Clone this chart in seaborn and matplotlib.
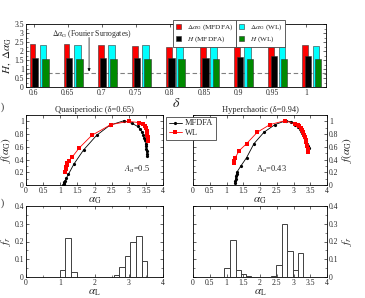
import numpy as np
import pandas as pd
import matplotlib
matplotlib.use("Agg")
import matplotlib.pyplot as plt
import seaborn as sns
from matplotlib.patches import Patch
from matplotlib.lines import Line2D
from matplotlib.ticker import MultipleLocator

# ---------------- data ----------------
delta = [0.6, 0.65, 0.7, 0.75, 0.8, 0.85, 0.9, 0.95, 1.0]
dalpha_mfdfa = [2.40, 2.39, 2.35, 2.27, 2.22, 2.30, 2.37, 2.37, 2.33]
H_mfdfa = [1.59, 1.60, 1.60, 1.62, 1.62, 1.62, 1.68, 1.70, 1.70]
dalpha_wl = [2.33, 2.33, 2.33, 2.31, 2.33, 2.37, 2.37, 2.37, 2.28]
H_wl = [1.55, 1.55, 1.57, 1.55, 1.57, 1.57, 1.55, 1.55, 1.55]
dalpha_surrogates = 0.76
delta_tick_labels = ["0.6", "0.65", "0.7", "0.75", "0.8", "0.85", "0.9", "0.95", "1"]

quasi_mfdfa_alpha = [1.09, 1.10, 1.11, 1.12, 1.14, 1.18, 1.24, 1.40, 1.68, 2.06, 2.45, 2.86,
                     3.09, 3.26, 3.33, 3.38, 3.42, 3.45, 3.47, 3.49, 3.50, 3.51, 3.52, 3.53, 3.54]
quasi_mfdfa_f = [0.00, 0.01, 0.03, 0.05, 0.07, 0.11, 0.17, 0.33, 0.55, 0.78, 0.94, 1.01,
                 0.97, 0.92, 0.88, 0.84, 0.79, 0.74, 0.70, 0.65, 0.61, 0.57, 0.53, 0.49, 0.45]
quasi_wl_alpha = [1.15, 1.16, 1.17, 1.19, 1.21, 1.25, 1.35, 1.55, 1.92, 2.48, 3.00, 3.30,
                  3.42, 3.47, 3.50, 3.52, 3.53, 3.54, 3.55, 3.56, 3.57]
quasi_wl_f = [0.21, 0.25, 0.28, 0.31, 0.34, 0.37, 0.44, 0.58, 0.78, 0.95, 1.00, 0.98,
              0.96, 0.93, 0.89, 0.85, 0.82, 0.78, 0.75, 0.72, 0.69]

hyper_mfdfa_alpha = [1.25, 1.26, 1.27, 1.28, 1.30, 1.32, 1.43, 1.60, 1.82, 2.12, 2.45, 2.77,
                     2.94, 3.05, 3.12, 3.18, 3.22, 3.26, 3.30, 3.34, 3.37, 3.40, 3.43, 3.45]
hyper_mfdfa_f = [0.03, 0.06, 0.10, 0.14, 0.18, 0.21, 0.30, 0.43, 0.65, 0.83, 0.95, 1.01,
                 0.99, 0.95, 0.91, 0.88, 0.85, 0.81, 0.77, 0.73, 0.69, 0.65, 0.61, 0.58]
hyper_wl_alpha = [1.22, 1.23, 1.25, 1.38, 1.60, 1.92, 2.30, 2.74, 3.04, 3.12, 3.17, 3.21,
                  3.25, 3.28, 3.31, 3.34, 3.36, 3.38, 3.40, 3.42, 3.43]
hyper_wl_f = [0.35, 0.38, 0.42, 0.54, 0.65, 0.83, 0.95, 1.01, 0.96, 0.94, 0.92, 0.89,
              0.86, 0.83, 0.79, 0.75, 0.71, 0.67, 0.62, 0.57, 0.52]

quasi_hist_edges = [0.99, 1.15, 1.31, 1.48, 2.56, 2.72, 2.89, 3.05, 3.21, 3.38, 3.54]
quasi_hist_heights = [0.04, 0.22, 0.03, 0.0, 0.01, 0.055, 0.12, 0.20, 0.23, 0.09]
hyper_hist_edges = [0.94, 1.10, 1.27, 1.42, 1.57, 1.72, 2.32, 2.48, 2.65, 2.82, 2.98, 3.13, 3.28]
hyper_hist_heights = [0.05, 0.21, 0.04, 0.015, 0.005, 0.0, 0.005, 0.065, 0.30, 0.145, 0.04, 0.135]

quasi_title = "Quasiperiodic (δ=0.65)"
hyper_title = "Hyperchaotic (δ=0.94)"
quasi_asym = r"$A_\alpha$=0.5"
hyper_asym = r"A$_\alpha$=0.43"

spectrum_ticks = [0, 0.5, 1, 1.5, 2, 2.5, 3, 3.5, 4]
spectrum_tick_labels = ["0", "0.5", "1", "1.5", "2", "2.5", "3", "3.5", "4"]

# ---------------- style ----------------
sns.set_style("ticks")
plt.rcParams.update({
    "font.family": ["Liberation Serif", "DejaVu Serif"],
    "mathtext.fontset": "stix",
    "font.size": 5.5,
    "axes.linewidth": 0.6,
    "xtick.direction": "in", "ytick.direction": "in",
    "xtick.top": True, "ytick.right": True,
    "xtick.major.size": 2.5, "ytick.major.size": 2.5,
    "xtick.minor.size": 1.3, "ytick.minor.size": 1.3,
    "xtick.major.width": 0.5, "ytick.major.width": 0.5,
    "xtick.minor.width": 0.4, "ytick.minor.width": 0.4,
    "xtick.labelsize": 5.5, "ytick.labelsize": 5.5,
    "xtick.major.pad": 1.5, "ytick.major.pad": 1.5,
    "axes.edgecolor": "black",
})

W, Hpx = 365, 298
fig = plt.figure(figsize=(W / 100, Hpx / 100), dpi=100)

def box(x0, y0, x1, y1):
    return [x0 / W, 1 - y1 / Hpx, (x1 - x0) / W, (y1 - y0) / Hpx]

ax_top = fig.add_axes(box(26, 24, 326, 87))
ax_ql = fig.add_axes(box(26, 115, 163, 185))
ax_hr = fig.add_axes(box(193, 115, 327, 185))
ax_qh = fig.add_axes(box(26, 206, 163, 277))
ax_hh = fig.add_axes(box(193, 206, 327, 277))

# ---------------- top bars ----------------
series = [(dalpha_mfdfa, "#ff0000", -0.0015, 0.17),
          (H_mfdfa, "#000000", 0.0023, 0.18),
          (dalpha_wl, "#00ffff", 0.0142, 0.19),
          (H_wl, "#008a00", 0.0173, 0.19)]
for vals, col, off, wd in series:
    xs = np.round(np.array(delta) + off, 5)
    sns.barplot(x=xs, y=vals, native_scale=True, width=wd, color=col,
                saturation=1, edgecolor="#333333", linewidth=0.4,
                errorbar=None, ax=ax_top)
ax_top.axhline(dalpha_surrogates, color="#808080", ls=(0, (4, 2.5)), lw=0.8, zorder=0.5)
ax_top.set_xlim(0.589, 1.029)
ax_top.set_ylim(0, 3.5)
ax_top.set_xticks(delta)
ax_top.set_xticklabels(delta_tick_labels)
ax_top.set_yticks([0, 0.5, 1, 1.5, 2, 2.5, 3, 3.5])
ax_top.set_yticklabels(["0", "0.5", "1", "1.5", "2", "2.5", "3", "3.5"])
ax_top.yaxis.set_minor_locator(MultipleLocator(0.25))
ax_top.set_xlabel(r"$\delta$", fontsize=10, labelpad=0)
ax_top.set_ylabel(r"$H,\ \Delta\alpha_{\rm G}$", fontsize=8, labelpad=1)
ax_top.text(0.685, 2.95, r"$\Delta\alpha_{\rm G}$ (Fourier Surrogates)",
            ha="center", va="center", fontsize=5.5)
ax_top.annotate("", xy=(0.6815, 0.86), xytext=(0.6815, 2.75),
                arrowprops=dict(arrowstyle="-|>", lw=0.5, color="black",
                                mutation_scale=4, shrinkA=0, shrinkB=0))

h1 = [Patch(facecolor="#ff0000", edgecolor="#333333", lw=0.4),
      Patch(facecolor="#000000", edgecolor="#333333", lw=0.4)]
h2 = [Patch(facecolor="#00ffff", edgecolor="#333333", lw=0.4),
      Patch(facecolor="#008a00", edgecolor="#333333", lw=0.4)]
legkw = dict(loc="upper left", fontsize=5.2, frameon=True, fancybox=False,
             edgecolor="#444444", framealpha=1, handlelength=0.7, handleheight=0.7,
             handletextpad=0.9, borderpad=0.35, labelspacing=0.3, borderaxespad=0)
lg1 = fig.legend(h1, [r"$\Delta\alpha_{\rm G}$ (MFDFA)", r"$H$ (MFDFA)"],
                 bbox_to_anchor=(173 / W, 1 - 20 / Hpx), **legkw)
lg1.get_frame().set_linewidth(0.6)
fig.canvas.draw()
bb = lg1.get_window_extent().transformed(fig.transFigure.inverted())
lg2 = fig.legend(h2, [r"$\Delta\alpha_{\rm G}$ (WL)", r"$H$ (WL)"],
                 bbox_to_anchor=(bb.x1, 1 - 20 / Hpx), **legkw)
lg2.get_frame().set_linewidth(0.6)

# ---------------- spectra ----------------
def spectra(ax, am, fm, aw, fw):
    sns.lineplot(x=am, y=fm, sort=False, estimator=None, color="black", marker="o",
                 markersize=2.3, markeredgewidth=0, linewidth=0.6, ax=ax, label="MFDFA")
    sns.lineplot(x=aw, y=fw, sort=False, estimator=None, color="#ff0000", marker="s",
                 markersize=2.3, markeredgewidth=0, linewidth=0.6, ax=ax, label="WL")
    ax.set_xlim(0, 4)
    ax.set_ylim(0, 1.1)
    ax.set_xticks(spectrum_ticks)
    ax.set_xticklabels(spectrum_tick_labels)
    ax.set_yticks([0, 0.2, 0.4, 0.6, 0.8, 1.0])
    ax.set_yticklabels(["0", "0.2", "0.4", "0.6", "0.8", "1"])
    ax.yaxis.set_minor_locator(MultipleLocator(0.1))
    ax.set_xlabel(r"$\alpha_{\rm G}$", fontsize=8, labelpad=0)
    ax.set_ylabel(r"$f(\alpha_{\rm G})$", fontsize=8, labelpad=1)
    if ax.get_legend() is not None:
        ax.get_legend().remove()

spectra(ax_ql, quasi_mfdfa_alpha, quasi_mfdfa_f, quasi_wl_alpha, quasi_wl_f)
spectra(ax_hr, hyper_mfdfa_alpha, hyper_mfdfa_f, hyper_wl_alpha, hyper_wl_f)
ax_ql.set_title(quasi_title, fontsize=6, pad=2)
ax_hr.set_title(hyper_title, fontsize=6, pad=2)
ax_ql.text(3.25, 0.24, quasi_asym, ha="center", va="center", fontsize=6)
ax_hr.text(2.35, 0.24, hyper_asym, ha="center", va="center", fontsize=6)
ax_hr.tick_params(axis="y", labelleft=False, labelright=True)
ax_hr.yaxis.set_label_position("right")

hl = [Line2D([], [], color="black", marker="o", markersize=2.3, lw=0.6, markeredgewidth=0),
      Line2D([], [], color="#ff0000", marker="s", markersize=2.3, lw=0.6, markeredgewidth=0)]
lg3 = fig.legend(hl, ["MFDFA", "WL"], loc="upper left", bbox_to_anchor=(166 / W, 1 - 117 / Hpx),
                 fontsize=6, frameon=True, fancybox=False, edgecolor="#444444", framealpha=1,
                 handlelength=1.6, handletextpad=0.4, borderpad=0.3, labelspacing=0.2,
                 borderaxespad=0)
lg3.get_frame().set_linewidth(0.6)

# ---------------- histograms ----------------
def hist(ax, edges, heights):
    e = [float(v) for v in edges]
    centers = [(a + b) / 2 for a, b in zip(e[:-1], e[1:])]
    df = pd.DataFrame({"alpha": centers, "w": [float(h) for h in heights]})
    sns.histplot(data=df, x="alpha", weights="w", bins=e, element="bars", fill=False,
                 color="#404040", linewidth=0.7, ax=ax)
    ax.set_xlim(0, 4)
    ax.set_ylim(0, 0.4)
    ax.set_yticks([0, 0.1, 0.2, 0.3, 0.4])
    ax.set_yticklabels(["0", "0.1", "0.2", "0.3", "0.4"])
    ax.yaxis.set_minor_locator(MultipleLocator(0.05))
    ax.set_xlabel(r"$\alpha_{\rm L}$", fontsize=8, labelpad=0)
    ax.set_ylabel(r"$f_r$", fontsize=8, labelpad=1)

hist(ax_qh, quasi_hist_edges, quasi_hist_heights)
ax_qh.set_xticks([0, 1, 2, 3, 4])
ax_qh.set_xticklabels(["0", "1", "2", "3", "4"])
ax_qh.xaxis.set_minor_locator(MultipleLocator(0.5))
hist(ax_hh, hyper_hist_edges, hyper_hist_heights)
ax_hh.set_xticks(spectrum_ticks)
ax_hh.set_xticklabels(spectrum_tick_labels)
ax_hh.tick_params(axis="y", labelleft=False, labelright=True)
ax_hh.yaxis.set_label_position("right")

fig.text(0.5 / W, 1 - 107 / Hpx, ")", ha="left", va="center", fontsize=7)
fig.text(0.5 / W, 1 - 203 / Hpx, ")", ha="left", va="center", fontsize=7)

fig.savefig("out.png", dpi=100)
